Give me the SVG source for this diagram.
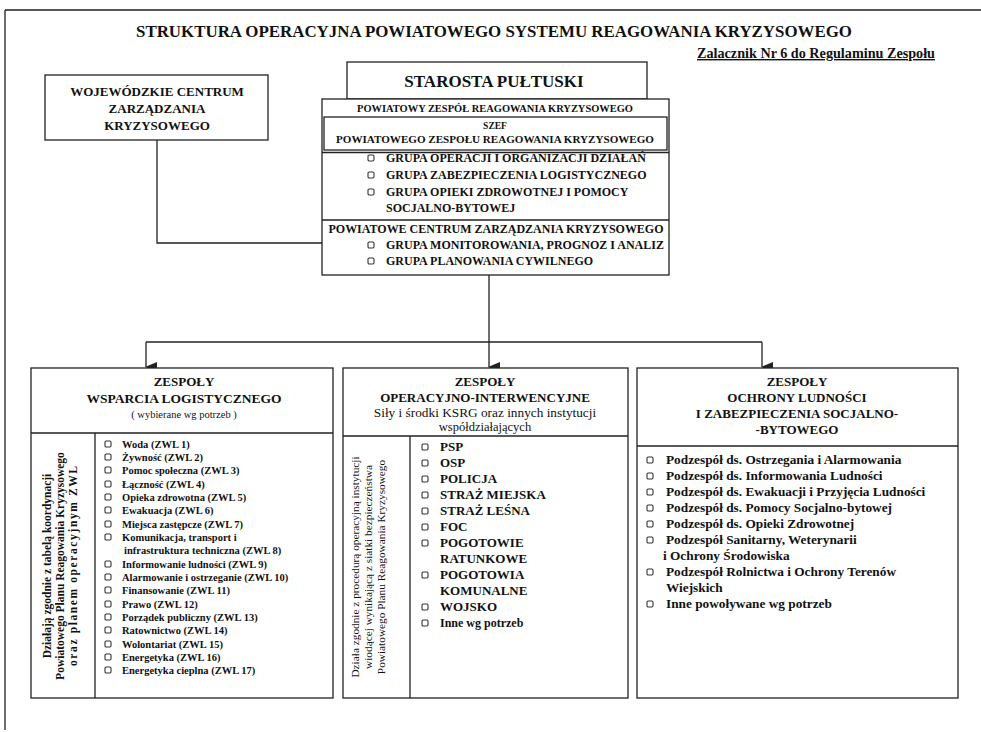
<svg xmlns="http://www.w3.org/2000/svg" width="981" height="732" viewBox="0 0 981 732">
<style>
text{font-family:"Liberation Serif","Times New Roman",serif;fill:#111;font-weight:bold}
.box{fill:#fff;stroke:#222;stroke-width:1.3}
.ln{fill:none;stroke:#222;stroke-width:1.3}
.c{text-anchor:middle}
.b{fill:#fff;stroke:#333;stroke-width:1.1}
.n{font-weight:normal}
.s10{font-size:10.5px}
.s11{font-size:11.5px}
.s12{font-size:12px}
.s13{font-size:13px}
.r{font-size:13.3px}
</style>
<defs>
<marker id="arr" markerWidth="10" markerHeight="12" refX="5" refY="11" orient="auto" markerUnits="userSpaceOnUse" viewBox="0 0 10 12">
<path d="M0,0 L10,0 L5,12 Z" fill="#222"/>
</marker>
<rect id="bl" width="6" height="6" rx="1.2" class="b"/>
</defs>
<rect width="981" height="732" fill="#fff"/>
<g id="frame">
<path d="M5,10 H981 M5,10 V730" class="ln" stroke-width="1"/>
</g>
<g id="title">
<text x="494" y="37" class="c" font-size="16" textLength="716" lengthAdjust="spacingAndGlyphs">STRUKTURA OPERACYJNA POWIATOWEGO SYSTEMU REAGOWANIA KRYZYSOWEGO</text>
<text x="935" y="58" text-anchor="end" font-size="14" text-decoration="underline" textLength="238" lengthAdjust="spacingAndGlyphs">Zalacznik Nr 6 do Regulaminu Zespołu</text>
</g>
<g id="connectors">
<path d="M157,140 V243 H322" class="ln"/>
<path d="M489,275 V342" class="ln"/>
<path d="M146,342 H762" class="ln" stroke-width="1.8"/>
<path d="M146,342 V367" class="ln" marker-end="url(#arr)"/>
<path d="M489,342 V367" class="ln" marker-end="url(#arr)"/>
<path d="M762,342 V367" class="ln" marker-end="url(#arr)"/>
</g>
<g id="wczk">
<rect x="45" y="75" width="223" height="65" class="box"/>
<text x="157" y="96" class="c" font-size="13">WOJEWÓDZKIE CENTRUM</text>
<text x="157" y="113" class="c" font-size="13">ZARZĄDZANIA</text>
<text x="157" y="130" class="c" font-size="13">KRYZYSOWEGO</text>
</g>
<g id="starosta">
<rect x="347" y="62" width="300" height="37" class="box"/>
<text x="494" y="87" class="c" font-size="17">STAROSTA PUŁTUSKI</text>
</g>
<g id="pzrk">
<rect x="322" y="99" width="347" height="176" class="box"/>
<text x="495" y="112" class="c" font-size="9.5" textLength="276" lengthAdjust="spacingAndGlyphs">POWIATOWY ZESPÓŁ REAGOWANIA KRYZYSOWEGO</text>
<rect x="324" y="117" width="343" height="33" class="box" stroke-width="2"/>
<text x="495" y="129" class="c" font-size="9.5">SZEF</text>
<text x="495" y="143" class="c" font-size="9.5" textLength="318" lengthAdjust="spacingAndGlyphs">POWIATOWEGO ZESPOŁU REAGOWANIA KRYZYSOWEGO</text>
<path d="M322,152.5 H669" class="ln" stroke-width="1"/>
<use href="#bl" x="368" y="155"/>
<text x="386" y="162" class="s12">GRUPA OPERACJI I ORGANIZACJI DZIAŁAŃ</text>
<use href="#bl" x="368" y="172"/>
<text x="386" y="179" class="s12">GRUPA ZABEZPIECZENIA LOGISTYCZNEGO</text>
<use href="#bl" x="368" y="189"/>
<text x="386" y="196" class="s12">GRUPA OPIEKI ZDROWOTNEJ I POMOCY</text>
<text x="386" y="212" class="s12">SOCJALNO-BYTOWEJ</text>
<path d="M322,220 H669" class="ln"/>
<text x="496" y="233" class="c s11" textLength="335" lengthAdjust="spacingAndGlyphs">POWIATOWE CENTRUM ZARZĄDZANIA KRYZYSOWEGO</text>
<use href="#bl" x="368" y="242"/>
<text x="386" y="249" class="s12">GRUPA MONITOROWANIA, PROGNOZ I ANALIZ</text>
<use href="#bl" x="368" y="258"/>
<text x="386" y="265" class="s12">GRUPA PLANOWANIA CYWILNEGO</text>
</g>
<g id="wsparcie">
<rect x="31" y="368" width="302" height="330" class="box"/>
<text x="184" y="386" class="c s13">ZESPOŁY</text>
<text x="184" y="403" class="c" font-size="13.5">WSPARCIA LOGISTYCZNEGO</text>
<text x="184" y="418" class="c n s10">( wybierane wg potrzeb )</text>
<path d="M31,433 H333 M95,433 V698" class="ln"/>
<text transform="translate(51,566) rotate(-90)" class="c" font-size="11.5">Działają zgodnie z tabelą koordynacji</text>
<text transform="translate(64,566) rotate(-90)" class="c" font-size="11.5">Powiatowego Planu Reagowania Kryzysowego</text>
<text transform="translate(77,566) rotate(-90)" class="c" font-size="11.5" textLength="200" lengthAdjust="spacing">oraz planem operacyjnym ZWL</text>
<use href="#bl" x="105" y="441"/><text x="122" y="448" class="s10">Woda (ZWL 1)</text>
<use href="#bl" x="105" y="454"/><text x="122" y="461" class="s10">Żywność (ZWL 2)</text>
<use href="#bl" x="105" y="467"/><text x="122" y="474" class="s10">Pomoc społeczna (ZWL 3)</text>
<use href="#bl" x="105" y="481"/><text x="122" y="488" class="s10">Łączność (ZWL 4)</text>
<use href="#bl" x="105" y="494"/><text x="122" y="501" class="s10">Opieka zdrowotna (ZWL 5)</text>
<use href="#bl" x="105" y="507"/><text x="122" y="514" class="s10">Ewakuacja (ZWL 6)</text>
<use href="#bl" x="105" y="521"/><text x="122" y="528" class="s10">Miejsca zastępcze (ZWL 7)</text>
<use href="#bl" x="105" y="534"/><text x="122" y="541" class="s10">Komunikacja, transport i</text>
<text x="124" y="554" class="s10">infrastruktura techniczna (ZWL 8)</text>
<use href="#bl" x="105" y="561"/><text x="122" y="568" class="s10">Informowanie ludności (ZWL 9)</text>
<use href="#bl" x="105" y="574"/><text x="122" y="581" class="s10">Alarmowanie i ostrzeganie (ZWL 10)</text>
<use href="#bl" x="105" y="587"/><text x="122" y="594" class="s10">Finansowanie (ZWL 11)</text>
<use href="#bl" x="105" y="601"/><text x="122" y="608" class="s10">Prawo (ZWL 12)</text>
<use href="#bl" x="105" y="614"/><text x="122" y="621" class="s10">Porządek publiczny (ZWL 13)</text>
<use href="#bl" x="105" y="627"/><text x="122" y="634" class="s10">Ratownictwo (ZWL 14)</text>
<use href="#bl" x="105" y="641"/><text x="122" y="648" class="s10">Wolontariat (ZWL 15)</text>
<use href="#bl" x="105" y="654"/><text x="122" y="661" class="s10">Energetyka (ZWL 16)</text>
<use href="#bl" x="105" y="667"/><text x="122" y="674" class="s10">Energetyka cieplna (ZWL 17)</text>
</g>
<g id="operacyjne">
<rect x="343" y="368" width="285" height="330" class="box"/>
<text x="485" y="386" class="c s13">ZESPOŁY</text>
<text x="485" y="402" class="c s13">OPERACYJNO-INTERWENCYJNE</text>
<text x="485" y="417" class="c n" font-size="13.3">Siły i środki KSRG oraz innych instytucji</text>
<text x="485" y="431" class="c n" font-size="12.5">współdziałających</text>
<path d="M343,436 H628 M410,436 V698" class="ln"/>
<text transform="translate(359,567) rotate(-90)" class="c n" font-size="11.3">Działa zgodnie z procedurą operacyjną instytucji</text>
<text transform="translate(372,567) rotate(-90)" class="c n" font-size="11.3">wiodącej wynikającą z siatki bezpieczeństwa</text>
<text transform="translate(385,567) rotate(-90)" class="c n" font-size="11.3">Powiatowego Planu Reagowania Kryzysowego</text>
<use href="#bl" x="422" y="444"/><text x="440" y="451" class="s13">PSP</text>
<use href="#bl" x="422" y="460"/><text x="440" y="467" class="s13">OSP</text>
<use href="#bl" x="422" y="476"/><text x="440" y="483" class="s13">POLICJA</text>
<use href="#bl" x="422" y="492"/><text x="440" y="499" class="s13">STRAŻ MIEJSKA</text>
<use href="#bl" x="422" y="508"/><text x="440" y="515" class="s13">STRAŻ LEŚNA</text>
<use href="#bl" x="422" y="524"/><text x="440" y="531" class="s13">FOC</text>
<use href="#bl" x="422" y="540"/><text x="440" y="547" class="s13">POGOTOWIE</text>
<text x="440" y="563" class="s13">RATUNKOWE</text>
<use href="#bl" x="422" y="572"/><text x="440" y="579" class="s13">POGOTOWIA</text>
<text x="440" y="595" class="s13">KOMUNALNE</text>
<use href="#bl" x="422" y="604"/><text x="440" y="611" class="s13">WOJSKO</text>
<use href="#bl" x="422" y="620"/><text x="440" y="627" class="s12">Inne wg potrzeb</text>
</g>
<g id="ochrona">
<rect x="637" y="368" width="321" height="330" class="box"/>
<text x="797" y="386" class="c s13">ZESPOŁY</text>
<text x="797" y="402" class="c s13">OCHRONY LUDNOŚCI</text>
<text x="797" y="418" class="c s13">I ZABEZPIECZENIA  SOCJALNO-</text>
<text x="797" y="434" class="c s13">-BYTOWEGO</text>
<path d="M637,446 H958" class="ln"/>
<use href="#bl" x="647" y="457"/><text x="666" y="464" class="r">Podzespół ds. Ostrzegania i Alarmowania</text>
<use href="#bl" x="647" y="473"/><text x="666" y="480" class="r">Podzespół ds. Informowania Ludności</text>
<use href="#bl" x="647" y="489"/><text x="666" y="496" class="r">Podzespół ds. Ewakuacji i Przyjęcia Ludności</text>
<use href="#bl" x="647" y="505"/><text x="666" y="512" class="r">Podzespół ds. Pomocy Socjalno-bytowej</text>
<use href="#bl" x="647" y="521"/><text x="666" y="528" class="r">Podzespół ds. Opieki Zdrowotnej</text>
<use href="#bl" x="647" y="537"/><text x="666" y="544" class="r">Podzespół Sanitarny, Weterynarii</text>
<text x="663" y="560" class="r">i Ochrony Środowiska</text>
<use href="#bl" x="647" y="569"/><text x="666" y="576" class="r">Podzespół Rolnictwa i Ochrony Terenów</text>
<text x="666" y="592" class="r">Wiejskich</text>
<use href="#bl" x="647" y="601"/><text x="666" y="608" class="r">Inne powoływane wg potrzeb</text>
</g>
</svg>
